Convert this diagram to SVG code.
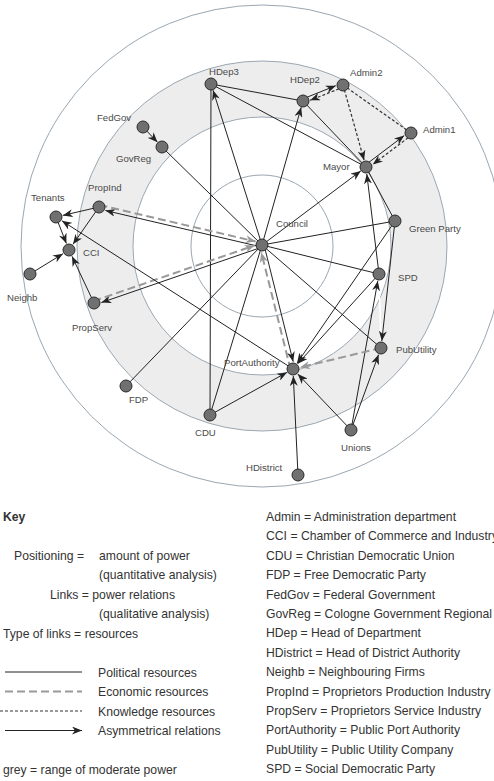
<svg xmlns="http://www.w3.org/2000/svg" width="494" height="781" viewBox="0 0 494 781">
<style>
.ring{fill:none;stroke:#9ba7b1;stroke-width:1}
.pol{stroke:#222;stroke-width:1;fill:none}
.eco{stroke:#999;stroke-width:2;stroke-dasharray:8 4;fill:none}
.kno{stroke:#333;stroke-width:1.2;stroke-dasharray:3 2;fill:none}
.node circle{fill:#707070;stroke:#2a2a2a;stroke-width:1}
.node text{font-family:"Liberation Sans",Arial,sans-serif;font-size:9.6px;fill:#4a4a4a}
.leg{font-family:"Liberation Sans",Arial,sans-serif;font-size:12.2px;fill:#333}
</style>
<defs>
<marker id="ab" markerUnits="userSpaceOnUse" markerWidth="10" markerHeight="8" refX="10" refY="4" orient="auto"><path d="M0,0 L10,4 L0,8 L3,4 z" fill="#222"/></marker>
<marker id="ag" markerUnits="userSpaceOnUse" markerWidth="10" markerHeight="8" refX="10" refY="4" orient="auto"><path d="M0,0 L10,4 L0,8 L3,4 z" fill="#999"/></marker>
</defs>
<rect width="494" height="781" fill="#fff"/>
<g id="rings">
<circle cx="262" cy="246" r="241" class="ring"/>
<circle cx="262" cy="246" r="185" fill="#ededed" stroke="#9ba7b1"/>
<circle cx="262" cy="246" r="129" fill="#fff" stroke="#9ba7b1"/>
<circle cx="262" cy="246" r="71" class="ring"/>
</g>
<g id="connectors">
<line x1="211" y1="84" x2="303" y2="101" class="pol"/>
<line x1="211" y1="84" x2="366" y2="167" class="pol"/>
<line x1="211" y1="84" x2="210" y2="415" class="pol"/>
<line x1="303" y1="101" x2="366" y2="167" class="pol"/>
<line x1="162" y1="147" x2="262" y2="245" class="pol"/>
<line x1="262" y1="245" x2="395" y2="221" class="pol"/>
<line x1="262" y1="245" x2="379" y2="274" class="pol"/>
<line x1="262" y1="245" x2="381" y2="348" class="pol"/>
<line x1="262" y1="245" x2="126" y2="386" class="pol"/>
<line x1="262" y1="245" x2="210" y2="415" class="pol"/>
<line x1="366" y1="167" x2="395" y2="221" class="pol"/>
<line x1="379" y1="281" x2="381" y2="341" stroke="#fff" stroke-width="1.5"/>
<line x1="262" y1="245" x2="213" y2="90.2" class="pol" marker-end="url(#ab)"/>
<line x1="262" y1="245" x2="301.2" y2="107.3" class="pol" marker-end="url(#ab)"/>
<line x1="262" y1="245" x2="360.8" y2="170.9" class="pol" marker-end="url(#ab)"/>
<line x1="261.5" y1="247" x2="105.4" y2="210.5" class="pol" marker-end="url(#ab)"/>
<line x1="99.5" y1="205" x2="255.6" y2="241.5" class="eco" marker-end="url(#ag)"/>
<line x1="262.6" y1="246.9" x2="101.3" y2="302.6" class="pol" marker-end="url(#ab)"/>
<line x1="93.4" y1="301.1" x2="254.7" y2="245.4" class="eco" marker-end="url(#ag)"/>
<line x1="263.9" y1="244.5" x2="293.2" y2="361.7" class="pol" stroke-width="1.6" marker-end="url(#ab)"/>
<line x1="290.6" y1="369.6" x2="261.3" y2="252.4" class="eco" marker-end="url(#ag)"/>
<line x1="143" y1="127" x2="157.5" y2="142.3" class="pol" marker-end="url(#ab)"/>
<line x1="302.3" y1="99.1" x2="335.8" y2="85.7" class="pol" marker-end="url(#ab)"/>
<line x1="343.7" y1="86.9" x2="310.2" y2="100.3" class="kno" marker-end="url(#ab)"/>
<line x1="343" y1="85" x2="364.1" y2="160.3" class="kno" marker-end="url(#ab)"/>
<line x1="343" y1="85" x2="411" y2="133" class="kno"/>
<line x1="364.8" y1="165.4" x2="404.2" y2="135.6" class="pol" marker-end="url(#ab)"/>
<line x1="412.2" y1="134.6" x2="372.8" y2="164.4" class="kno" marker-end="url(#ab)"/>
<line x1="99" y1="207" x2="62.8" y2="215.4" class="pol" marker-end="url(#ab)"/>
<line x1="99" y1="207" x2="73" y2="244.3" class="pol" marker-end="url(#ab)"/>
<line x1="56" y1="217" x2="66.4" y2="243.5" class="pol" marker-end="url(#ab)"/>
<line x1="30" y1="274" x2="63" y2="253.7" class="pol" marker-end="url(#ab)"/>
<line x1="94" y1="303" x2="72" y2="256.3" class="pol" marker-end="url(#ab)"/>
<line x1="293" y1="369" x2="61.9" y2="220.8" class="pol" marker-end="url(#ab)"/>
<line x1="379" y1="274" x2="366.8" y2="174" class="pol" marker-end="url(#ab)"/>
<line x1="395" y1="221" x2="297" y2="363.2" class="pol" marker-end="url(#ab)"/>
<line x1="379" y1="274" x2="297.7" y2="363.8" class="pol" marker-end="url(#ab)"/>
<line x1="395" y1="221" x2="381.8" y2="341" class="pol" marker-end="url(#ab)"/>
<line x1="351" y1="430" x2="377.8" y2="280.9" class="pol" marker-end="url(#ab)"/>
<line x1="351" y1="430" x2="378.6" y2="354.6" class="pol" marker-end="url(#ab)"/>
<line x1="351" y1="430" x2="297.8" y2="374.1" class="pol" marker-end="url(#ab)"/>
<line x1="298" y1="475" x2="293.3" y2="376" class="pol" marker-end="url(#ab)"/>
<line x1="210" y1="415" x2="286.9" y2="372.4" class="pol" marker-end="url(#ab)"/>
<line x1="381" y1="348" x2="299.8" y2="367.4" class="eco" marker-end="url(#ag)"/>
</g>
<g id="n-HDep3" class="node"><circle cx="211" cy="84" r="6"/><text x="209" y="75">HDep3</text></g>
<g id="n-HDep2" class="node"><circle cx="303" cy="101" r="6"/><text x="290" y="83">HDep2</text></g>
<g id="n-Admin2" class="node"><circle cx="343" cy="85" r="6"/><text x="350" y="76">Admin2</text></g>
<g id="n-Admin1" class="node"><circle cx="411" cy="133" r="6"/><text x="423" y="133">Admin1</text></g>
<g id="n-FedGov" class="node"><circle cx="143" cy="127" r="6"/><text x="97" y="121">FedGov</text></g>
<g id="n-GovReg" class="node"><circle cx="162" cy="147" r="6"/><text x="116" y="162">GovReg</text></g>
<g id="n-Mayor" class="node"><circle cx="366" cy="167" r="6"/><text x="323" y="170">Mayor</text></g>
<g id="n-PropInd" class="node"><circle cx="99" cy="207" r="6"/><text x="88" y="191">PropInd</text></g>
<g id="n-Tenants" class="node"><circle cx="56" cy="217" r="6"/><text x="31" y="201">Tenants</text></g>
<g id="n-Council" class="node"><circle cx="262" cy="245" r="6"/><text x="276" y="227">Council</text></g>
<g id="n-GreenParty" class="node"><circle cx="395" cy="221" r="6"/><text x="409" y="232">Green Party</text></g>
<g id="n-CCI" class="node"><circle cx="69" cy="250" r="6"/><text x="83" y="256">CCI</text></g>
<g id="n-Neighb" class="node"><circle cx="30" cy="274" r="6"/><text x="7" y="301">Neighb</text></g>
<g id="n-PropServ" class="node"><circle cx="94" cy="303" r="6"/><text x="72" y="331">PropServ</text></g>
<g id="n-SPD" class="node"><circle cx="379" cy="274" r="6"/><text x="398" y="281">SPD</text></g>
<g id="n-PubUtility" class="node"><circle cx="381" cy="348" r="6"/><text x="396" y="353">PubUtility</text></g>
<g id="n-PortAuthority" class="node"><circle cx="293" cy="369" r="6"/><text x="224" y="366">PortAuthority</text></g>
<g id="n-FDP" class="node"><circle cx="126" cy="386" r="6"/><text x="129" y="403">FDP</text></g>
<g id="n-CDU" class="node"><circle cx="210" cy="415" r="6"/><text x="195" y="436">CDU</text></g>
<g id="n-Unions" class="node"><circle cx="351" cy="430" r="6"/><text x="341" y="451">Unions</text></g>
<g id="n-HDistrict" class="node"><circle cx="298" cy="475" r="6"/><text x="246" y="471">HDistrict</text></g>
<g id="key">
<text x="3" y="521" class="leg" font-weight="bold">Key</text>
<text x="14" y="560" class="leg">Positioning =</text>
<text x="99" y="560" class="leg">amount of power</text>
<text x="99" y="579" class="leg">(quantitative analysis)</text>
<text x="50" y="598.5" class="leg">Links = power relations</text>
<text x="99" y="618" class="leg">(qualitative analysis)</text>
<text x="3" y="637.5" class="leg">Type of links = resources</text>
<line x1="5" y1="672" x2="82" y2="672" class="pol"/>
<text x="98" y="676.5" class="leg">Political resources</text>
<line x1="5" y1="691.5" x2="82" y2="691.5" class="eco" stroke-dasharray="7 4"/>
<text x="98" y="696" class="leg">Economic resources</text>
<line x1="0" y1="711" x2="82" y2="711" class="kno" stroke-width="1" stroke-dasharray="2 2"/>
<text x="98" y="715.5" class="leg">Knowledge resources</text>
<line x1="5" y1="730.5" x2="82" y2="730.5" class="pol" marker-end="url(#ab)"/>
<text x="98" y="735" class="leg">Asymmetrical relations</text>
<text x="3" y="773.5" class="leg">grey = range of moderate power</text>
</g>
<g id="abbrev" class="leg">
<text x="266" y="521">Admin = Administration department</text>
<text x="266" y="540.4">CCI = Chamber of Commerce and Industry</text>
<text x="266" y="559.8">CDU = Christian Democratic Union</text>
<text x="266" y="579.2">FDP = Free Democratic Party</text>
<text x="266" y="598.6">FedGov = Federal Government</text>
<text x="266" y="618">GovReg = Cologne Government Regional Council</text>
<text x="266" y="637.4">HDep = Head of Department</text>
<text x="266" y="656.8">HDistrict = Head of District Authority</text>
<text x="266" y="676.2">Neighb = Neighbouring Firms</text>
<text x="266" y="695.6">PropInd = Proprietors Production Industry</text>
<text x="266" y="715">PropServ = Proprietors Service Industry</text>
<text x="266" y="734.4">PortAuthority = Public Port Authority</text>
<text x="266" y="753.8">PubUtility = Public Utility Company</text>
<text x="266" y="773.2">SPD = Social Democratic Party</text>
</g>
</svg>
